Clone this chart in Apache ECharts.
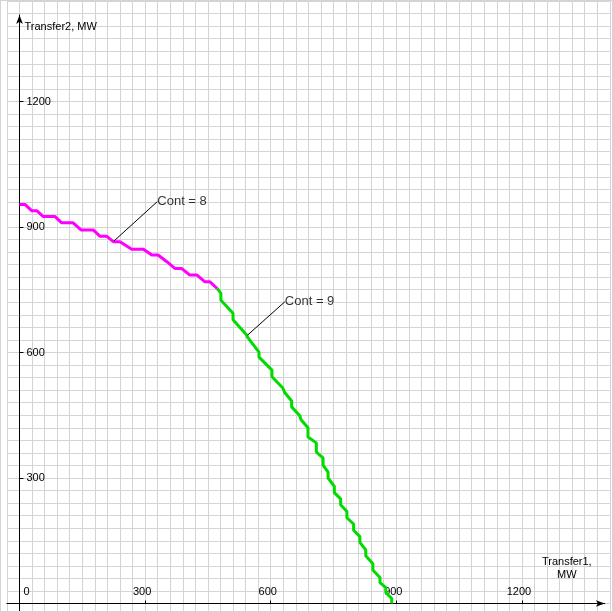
<!DOCTYPE html>
<html>
<head>
<meta charset="utf-8">
<script src="https://cdn.jsdelivr.net/npm/echarts@6/dist/echarts.min.js"></script>
<style>
html,body{margin:0;padding:0;background:#fff;overflow:hidden;}
#wrap{position:relative;width:613px;height:612px;overflow:hidden;}
#chart{width:613px;height:620px;}
#frame{position:absolute;left:0;top:0;width:611px;height:610px;border:1px solid #d4d4d4;pointer-events:none;}
</style>
</head>
<body>
<div id="wrap"><div id="chart"></div><div id="frame"></div></div>
<script>
// ---- data ----
const xTicks = [0, 300, 600, 900, 1200];
const yTicks = [300, 600, 900, 1200];
const xName = 'Transfer1,\nMW';
const yName = 'Transfer2, MW';

// Contingency 8 (magenta) part of the boundary
const cont8Points = [
  [0,954],[13,954],[29,939],[41,939],[57,925],[85,925],[101,910],[128,910],
  [147,893],[176,893],[192,878],[208,878],[224,865],[240,865],[268,847],[296,847],
  [316,833],[331,833],[352,817],[371,801],[387,801],[407,785],[424,785],[443,769],
  [455,769],[472,753]
];
// Contingency 9 (green) part of the boundary
const cont9Points = [
  [472,753],[481,742],[481,725],[510,694],[510,678],[543,641],[545,636],[572,601],
  [572,589],[603,558],[603,542],[629,515],[633,505],[650,484],[650,470],[670,448],
  [672,440],[689,420],[689,398],[709,384],[709,362],[725,348],[725,331],[737,314],
  [737,300],[752,280],[752,265],[767,250],[767,236],[782,220],[782,205],[798,190],
  [798,175],[813,160],[813,146],[827,128],[827,114],[844,95],[844,80],[861,62],
  [861,50],[875,38],[875,26],[889,12],[889,0]
];
const annotLabels = ['Cont = 8', 'Cont = 9'];
const annotAnchors = [[224,865],[543,640]];

// ---- chart ----
const font = 'Liberation Sans, Arial, sans-serif';
const chart = echarts.init(document.getElementById('chart'), null, {renderer:'canvas'});
const hidden = {axisLine: {show: false}, axisTick: {show: false}, axisLabel: {show: false}, splitLine: {show: false}};

const option = {
  animation: false,
  backgroundColor: '#ffffff',
  grid: [
    // background grid lines
    {left: 6.94, right: 3.2, top: 1.1, bottom: 3.95, outerBoundsMode: 'none', containLabel: false},
    // data area (origin at the corner)
    {left: 19.5, right: 8.2, top: 14.9, bottom: 16.5, outerBoundsMode: 'none', containLabel: false},
    // axis lines crossing at the origin, extended past it
    {left: 6.94, right: 8.2, top: 14.9, bottom: 3.95, outerBoundsMode: 'none', containLabel: false}
  ],
  xAxis: [
    Object.assign({}, hidden, {
      gridIndex: 0, type: 'value', min: -30, max: 1410, interval: 30,
      splitLine: {show: true, lineStyle: {color: '#d4d4d4', width: 1}}
    }),
    {
      gridIndex: 1, type: 'value', min: 0, max: 1398,
      splitLine: {show: false},
      axisLine: {show: false},
      axisTick: {show: true, inside: true, length: 3, customValues: xTicks,
        lineStyle: {color: '#000'}},
      axisLabel: {show: true, inside: true, margin: 6, customValues: xTicks,
        color: '#000', fontFamily: font, fontSize: 11, padding: [0, 6, 0, 0],
        formatter: function (v) { return v === 0 ? '{z|0}' : String(v); },
        rich: {z: {padding: [0, 0, 0, 20], color: '#000', fontFamily: font, fontSize: 11}}
      },
      name: xName, nameLocation: 'end', nameGap: -38,
      nameTextStyle: {color: '#000', fontFamily: font, fontSize: 11, align: 'center',
        verticalAlign: 'bottom', lineHeight: 13, padding: [0, 0, 22, 0]}
    },
    Object.assign({}, hidden, {
      gridIndex: 2, type: 'value', min: -30, max: 1398,
      axisLine: {show: true, onZero: true, symbol: ['none', 'arrow'], symbolSize: [5, 9],
        lineStyle: {color: '#000', width: 1}}
    })
  ],
  yAxis: [
    Object.assign({}, hidden, {
      gridIndex: 0, type: 'value', min: -30, max: 1440, interval: 30,
      splitLine: {show: true, lineStyle: {color: '#d4d4d4', width: 1}}
    }),
    {
      gridIndex: 1, type: 'value', min: 0, max: 1407,
      splitLine: {show: false},
      axisLine: {show: false},
      axisTick: {show: true, inside: true, length: 4, customValues: yTicks,
        lineStyle: {color: '#000'}},
      axisLabel: {show: true, inside: true, margin: 7, customValues: yTicks,
        color: '#000', fontFamily: font, fontSize: 11,
        formatter: function (v) { return String(v); }},
      name: yName, nameLocation: 'end', nameGap: -12,
      nameTextStyle: {color: '#000', fontFamily: font, fontSize: 11, align: 'left',
        verticalAlign: 'middle', padding: [0, 0, 0, 5]}
    },
    Object.assign({}, hidden, {
      gridIndex: 2, type: 'value', min: -30, max: 1407,
      axisLine: {show: true, onZero: true, symbol: ['none', 'arrow'], symbolSize: [5, 9],
        lineStyle: {color: '#000', width: 1}}
    })
  ],
  series: [
    {
      name: 'Cont 8', type: 'line', xAxisIndex: 1, yAxisIndex: 1,
      data: cont8Points, symbol: 'none', showSymbol: false, clip: false, z: 3,
      lineStyle: {color: '#ff00ff', width: 3}
    },
    {
      name: 'Cont 9', type: 'line', xAxisIndex: 1, yAxisIndex: 1,
      data: cont9Points, symbol: 'none', showSymbol: false, clip: false, z: 3,
      lineStyle: {color: '#00dc00', width: 3}
    },
    {
      name: 'annot', type: 'scatter', xAxisIndex: 1, yAxisIndex: 1, z: 4,
      data: annotAnchors.map(function (p, i) { return {value: p, name: annotLabels[i]}; }),
      symbolSize: 2, itemStyle: {color: 'rgba(0,0,0,0)'},
      label: {show: true, position: 'inside', align: 'left', verticalAlign: 'middle',
        formatter: '{b}', color: '#000', fontFamily: font, fontSize: 13},
      labelLine: {show: true, lineStyle: {color: '#000', width: 1}},
      labelLayout: function (params) {
        return params.dataIndex === 0 ? {dx: 44, dy: -40} : {dx: 38, dy: -34};
      },
      emphasis: {disabled: true}
    }
  ]
};
chart.setOption(option);
</script>
</body>
</html>
